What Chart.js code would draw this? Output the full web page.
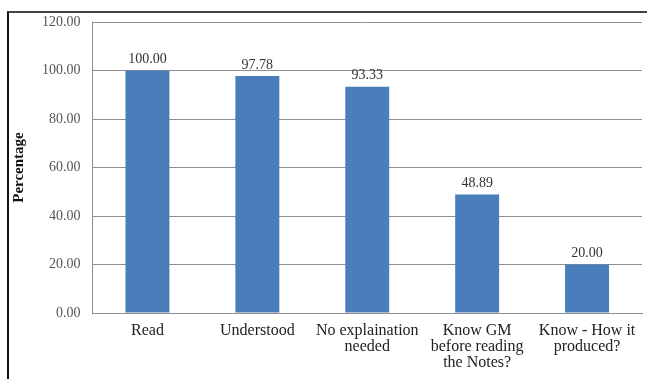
<!doctype html>
<html>
<head>
	<title>Percentage</title>
	<script src="https://cdn.jsdelivr.net/npm/chart.js@4/dist/chart.umd.min.js"></script>
	<style type="text/css">
		body { margin: 0; background: #fff; }
		#frame {
			position: absolute; left: 7px; top: 11px; width: 645px; height: 375px;
			border-top: 2px solid #444; border-left: 2px solid #111;
		}
		#container { position: absolute; left: 0; top: 0; width: 647px; height: 379px; }
	</style>
</head>
<body>
	<div id="frame"></div>
	<div id="container">
		<canvas id="canvas" width="647" height="379"></canvas>
	</div>
	<script>
		var categories = [
			['Read'],
			['Understood'],
			['No explaination', 'needed'],
			['Know GM', 'before reading', 'the Notes?'],
			['Know - How it', 'produced?']
		];
		var values = [100.00, 97.78, 93.33, 48.89, 20.00];
		var yTicks = [0, 20, 40, 60, 80, 100, 120];

		// writes the value above each bar
		var valueLabels = {
			id: 'valueLabels',
			afterDatasetsDraw: function(chart) {
				var ctx = chart.ctx;
				var meta = chart.getDatasetMeta(0);
				ctx.save();
				ctx.font = '14px "Liberation Serif", serif';
				ctx.fillStyle = '#333';
				ctx.textAlign = 'center';
				ctx.textBaseline = 'bottom';
				meta.data.forEach(function(bar, i) {
					ctx.fillText(values[i].toFixed(2), bar.x, bar.y - 4);
				});
				ctx.restore();
			}
		};

		window.onload = function() {
			var ctx = document.getElementById('canvas').getContext('2d');
			window.myChart = new Chart(ctx, {
				type: 'bar',
				data: {
					labels: categories,
					datasets: [{
						data: values,
						backgroundColor: '#4a7ebb',
						borderWidth: 0,
						categoryPercentage: 1,
						barPercentage: 0.4
					}]
				},
				options: {
					responsive: false,
					animation: false,
					layout: { padding: { left: 10, top: 22, right: 5, bottom: 6 } },
					plugins: {
						legend: { display: false },
						tooltip: { enabled: false }
					},
					scales: {
						x: {
							grid: { display: false },
							border: { color: '#8f8f8f', width: 1 },
							ticks: {
								color: '#222',
								padding: 2,
								maxRotation: 0,
								font: { family: '"Liberation Serif", serif', size: 16, lineHeight: '16px' }
							}
						},
						y: {
							min: 0,
							max: 120,
							afterBuildTicks: function(scale) {
								scale.ticks = yTicks.map(function(v) { return { value: v }; });
							},
							grid: { color: '#8f8f8f', lineWidth: 1, drawTicks: false },
							border: { color: '#8f8f8f', width: 1 },
							ticks: {
								color: '#555',
								padding: 12,
								font: { family: '"Liberation Serif", serif', size: 14 },
								callback: function(v) { return Number(v).toFixed(2); }
							},
							title: {
								display: true,
								text: 'Percentage',
								color: '#111',
								padding: { top: 0, bottom: 2 },
								font: { family: '"Liberation Serif", serif', size: 15, weight: 'bold' }
							}
						}
					}
				},
				plugins: [valueLabels]
			});
		};
	</script>
</body>
</html>
